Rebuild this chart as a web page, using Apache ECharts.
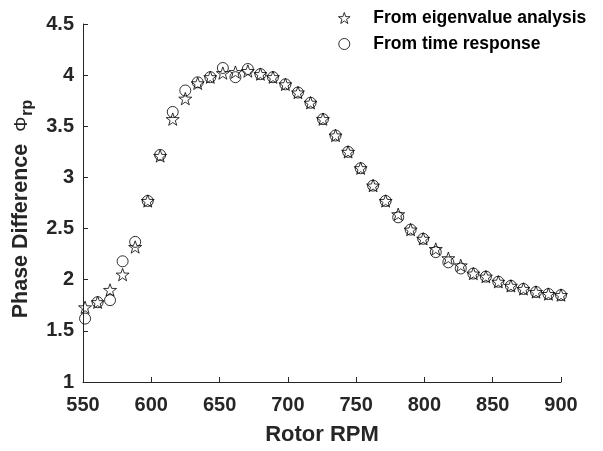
<!DOCTYPE html>
<html>
<head>
<meta charset="utf-8">
<script src="https://cdn.jsdelivr.net/npm/echarts@6/dist/echarts.min.js"></script>
<style>html,body{margin:0;padding:0;background:#fff}#c{width:603px;height:451px}</style>
</head>
<body>
<div id="c"></div>
<script>
const rpm = [551.5,560.7,569.8,579.0,588.2,597.4,606.5,615.7,624.9,634.0,643.2,652.4,661.6,670.7,679.9,689.1,698.2,707.4,716.6,725.7,734.9,744.1,753.3,762.4,771.6,780.8,789.9,799.1,808.3,817.5,826.6,835.8,845.0,854.1,863.3,872.5,881.7,890.8,900.0];
const eigenPhase = [1.73,1.78,1.90,2.05,2.32,2.77,3.21,3.57,3.77,3.92,3.98,4.02,4.03,4.04,4.01,3.98,3.91,3.83,3.73,3.57,3.41,3.25,3.09,2.92,2.77,2.64,2.49,2.40,2.30,2.21,2.14,2.06,2.03,1.98,1.94,1.91,1.88,1.86,1.85];
const timePhase = [1.62,1.78,1.80,2.18,2.37,2.77,3.22,3.64,3.85,3.93,3.98,4.07,3.98,4.06,4.01,3.98,3.91,3.83,3.73,3.57,3.41,3.25,3.09,2.92,2.77,2.61,2.49,2.40,2.27,2.17,2.11,2.06,2.03,1.98,1.94,1.91,1.88,1.86,1.85];
const seriesNames = ['From eigenvalue analysis','From time response'];
const xTicks = [550,600,650,700,750,800,850,900];
const yTicks = [1,1.5,2,2.5,3,3.5,4,4.5];

const star = 'path://M0,-10 L2.35,-3.24 L9.51,-3.09 L3.8,1.24 L5.88,8.09 L0,4 L-5.88,8.09 L-3.8,1.24 L-9.51,-3.09 L-2.35,-3.24 Z';
const font = 'Liberation Sans, Arial, sans-serif';
const chart = echarts.init(document.getElementById('c'), null, {renderer:'canvas'});
chart.setOption({
  animation:false,
  backgroundColor:'#fff',
  grid:{left:83, right:42, top:24, bottom:65},
  legend:{
    orient:'vertical', left:333, top:4, itemGap:8, itemWidth:12, itemHeight:11,
    textStyle:{fontFamily:font, fontWeight:'bold', fontSize:17.5, color:'#000', padding:[0,0,0,18]},
    data:[
      {name:seriesNames[0], icon:star, itemStyle:{color:'#fff', borderColor:'#000', borderWidth:1}},
      {name:seriesNames[1], icon:'circle', itemStyle:{color:'#fff', borderColor:'#000', borderWidth:1}}
    ]
  },
  xAxis:{
    type:'value', min:xTicks[0], max:xTicks[xTicks.length-1], interval:50,
    name:'Rotor RPM', nameLocation:'middle', nameGap:42,
    nameTextStyle:{fontFamily:font, fontWeight:'bold', fontSize:22, color:'#262626'},
    axisLine:{show:true, lineStyle:{color:'#262626', width:1}},
    axisTick:{show:true, inside:true, length:5, lineStyle:{color:'#262626'}},
    axisLabel:{fontFamily:font, fontWeight:'bold', fontSize:20, color:'#262626', margin:13},
    splitLine:{show:false}
  },
  yAxis:{
    type:'value', min:yTicks[0], max:yTicks[yTicks.length-1], interval:0.5,
    name:'{a|Phase Difference  }{p|Φ}{s|rp}', nameLocation:'middle', nameGap:40, nameRotate:90,
    nameTextStyle:{
      padding:[0,12,0,0],
      rich:{
        a:{fontFamily:font, fontWeight:'bold', fontSize:21.5, color:'#262626'},
        p:{fontFamily:font, fontSize:19, color:'#262626'},
        s:{fontFamily:font, fontWeight:'bold', fontSize:16, color:'#262626', verticalAlign:'bottom', padding:[12,0,0,1]}
      }
    },
    axisLine:{show:true, lineStyle:{color:'#262626', width:1}},
    axisTick:{show:true, inside:true, length:5, lineStyle:{color:'#262626'}},
    axisLabel:{fontFamily:font, fontWeight:'bold', fontSize:20, color:'#262626', margin:9,
      formatter:v=>String(v)},
    splitLine:{show:false}
  },
  series:[
    {name:seriesNames[0], type:'scatter', symbol:star, symbolSize:13, symbolKeepAspect:true,
     itemStyle:{color:'rgba(255,255,255,0)', borderColor:'#000', borderWidth:1},
     data:rpm.map((x,i)=>[x,eigenPhase[i]]), z:3},
    {name:seriesNames[1], type:'scatter', symbol:'circle', symbolSize:11,
     itemStyle:{color:'rgba(255,255,255,0)', borderColor:'#000', borderWidth:1},
     data:rpm.map((x,i)=>[x,timePhase[i]]), z:2}
  ]
});
</script>
</body>
</html>
